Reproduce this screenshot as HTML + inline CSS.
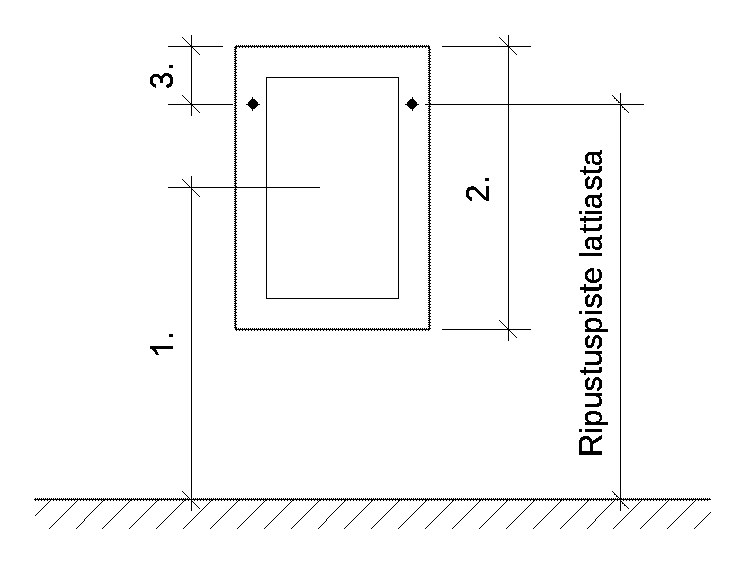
<!DOCTYPE html>
<html><head><meta charset="utf-8"><title>Ripustuspiste</title>
<style>
html,body{margin:0;padding:0;background:#fff;width:744px;height:562px;overflow:hidden}
svg{display:block}
text{font-family:"Liberation Sans",sans-serif;font-size:32px;fill:#000}
</style></head><body>
<svg width="744" height="562" viewBox="0 0 744 562" shape-rendering="crispEdges">
<defs><pattern id="h2_0" patternUnits="userSpaceOnUse" x="0" y="0" width="2" height="1"><rect width="1" height="1"/></pattern><pattern id="v2_0" patternUnits="userSpaceOnUse" x="0" y="0" width="1" height="2"><rect width="1" height="1"/></pattern><pattern id="h2_1" patternUnits="userSpaceOnUse" x="1" y="0" width="2" height="1"><rect width="1" height="1"/></pattern><pattern id="v2_1" patternUnits="userSpaceOnUse" x="0" y="1" width="1" height="2"><rect width="1" height="1"/></pattern><pattern id="h3_0" patternUnits="userSpaceOnUse" x="0" y="0" width="3" height="1"><rect width="1" height="1"/></pattern><pattern id="v3_0" patternUnits="userSpaceOnUse" x="0" y="0" width="1" height="3"><rect width="1" height="1"/></pattern><pattern id="h3_1" patternUnits="userSpaceOnUse" x="1" y="0" width="3" height="1"><rect width="1" height="1"/></pattern><pattern id="v3_1" patternUnits="userSpaceOnUse" x="0" y="1" width="1" height="3"><rect width="1" height="1"/></pattern><pattern id="h3_2" patternUnits="userSpaceOnUse" x="2" y="0" width="3" height="1"><rect width="1" height="1"/></pattern><pattern id="v3_2" patternUnits="userSpaceOnUse" x="0" y="2" width="1" height="3"><rect width="1" height="1"/></pattern></defs>
<g fill="#000">
<rect x="235" y="46" width="195" height="1"/>
<rect x="236" y="45" width="193" height="1" fill="url(#h2_0)"/>
<rect x="236" y="47" width="193" height="1" fill="url(#h3_2)"/>
<rect x="235" y="329" width="195" height="1"/>
<rect x="236" y="328" width="193" height="1" fill="url(#h2_0)"/>
<rect x="236" y="330" width="193" height="1" fill="url(#h3_2)"/>
<rect x="235" y="46" width="1" height="284"/>
<rect x="234" y="47" width="1" height="282" fill="url(#v2_1)"/>
<rect x="236" y="47" width="1" height="282" fill="url(#v3_0)"/>
<rect x="429" y="46" width="1" height="284"/>
<rect x="428" y="47" width="1" height="282" fill="url(#v2_0)"/>
<rect x="430" y="47" width="1" height="282" fill="url(#v3_1)"/>
<rect x="266" y="77" width="133" height="1"/>
<rect x="266" y="298" width="133" height="1"/>
<rect x="266" y="77" width="1" height="222"/>
<rect x="398" y="77" width="1" height="222"/>
<rect x="252" y="97" width="1" height="2"/>
<rect x="252" y="109" width="1" height="2"/>
<rect x="251" y="99" width="4" height="1"/>
<rect x="250" y="100" width="6" height="1"/>
<rect x="249" y="101" width="8" height="1"/>
<rect x="248" y="102" width="10" height="1"/>
<rect x="248" y="103" width="10" height="1"/>
<rect x="246" y="104" width="14" height="1"/>
<rect x="248" y="105" width="10" height="1"/>
<rect x="249" y="106" width="8" height="1"/>
<rect x="250" y="107" width="6" height="1"/>
<rect x="251" y="108" width="4" height="1"/>
<rect x="412" y="97" width="1" height="2"/>
<rect x="412" y="109" width="1" height="2"/>
<rect x="410" y="99" width="4" height="1"/>
<rect x="409" y="100" width="6" height="1"/>
<rect x="408" y="101" width="8" height="1"/>
<rect x="407" y="102" width="10" height="1"/>
<rect x="407" y="103" width="10" height="1"/>
<rect x="405" y="104" width="14" height="1"/>
<rect x="407" y="105" width="10" height="1"/>
<rect x="408" y="106" width="8" height="1"/>
<rect x="409" y="107" width="6" height="1"/>
<rect x="410" y="108" width="4" height="1"/>
<rect x="191" y="35" width="1" height="81"/>
<rect x="168" y="46" width="55" height="1"/>
<rect x="168" y="104" width="65" height="1"/>
<path d="M182 37h1v1h-1zM183 38h1v1h-1zM184 39h1v1h-1zM185 40h1v1h-1zM186 41h1v1h-1zM187 42h1v1h-1zM188 43h1v1h-1zM189 44h1v1h-1zM190 45h1v1h-1zM191 46h1v1h-1zM192 47h1v1h-1zM193 48h1v1h-1zM194 49h1v1h-1zM195 50h1v1h-1zM196 51h1v1h-1zM197 52h1v1h-1zM198 53h1v1h-1zM199 54h1v1h-1z"/>
<path d="M182 95h1v1h-1zM183 96h1v1h-1zM184 97h1v1h-1zM185 98h1v1h-1zM186 99h1v1h-1zM187 100h1v1h-1zM188 101h1v1h-1zM189 102h1v1h-1zM190 103h1v1h-1zM191 104h1v1h-1zM192 105h1v1h-1zM193 106h1v1h-1zM194 107h1v1h-1zM195 108h1v1h-1zM196 109h1v1h-1zM197 110h1v1h-1zM198 111h1v1h-1zM199 112h1v1h-1z"/>
<rect x="191" y="176" width="1" height="335"/>
<rect x="168" y="187" width="152" height="1"/>
<path d="M182 179h1v1h-1zM183 180h1v1h-1zM184 181h1v1h-1zM185 182h1v1h-1zM186 183h1v1h-1zM187 184h1v1h-1zM188 185h1v1h-1zM189 186h1v1h-1zM190 187h1v1h-1zM191 188h1v1h-1zM192 189h1v1h-1zM193 190h1v1h-1zM194 191h1v1h-1zM195 192h1v1h-1zM196 193h1v1h-1zM197 194h1v1h-1zM198 195h1v1h-1zM199 196h1v1h-1z"/>
<path d="M182 491h1v1h-1zM183 492h1v1h-1zM184 493h1v1h-1zM185 494h1v1h-1zM186 495h1v1h-1zM187 496h1v1h-1zM188 497h1v1h-1zM189 498h1v1h-1zM190 499h1v1h-1zM191 500h1v1h-1zM192 501h1v1h-1zM193 502h1v1h-1zM194 503h1v1h-1zM195 504h1v1h-1zM196 505h1v1h-1zM197 506h1v1h-1zM198 507h1v1h-1zM199 508h1v1h-1z"/>
<rect x="508" y="35" width="1" height="306"/>
<rect x="442" y="46" width="89" height="1"/>
<rect x="442" y="329" width="89" height="1"/>
<path d="M499 37h1v1h-1zM500 38h1v1h-1zM501 39h1v1h-1zM502 40h1v1h-1zM503 41h1v1h-1zM504 42h1v1h-1zM505 43h1v1h-1zM506 44h1v1h-1zM507 45h1v1h-1zM508 46h1v1h-1zM509 47h1v1h-1zM510 48h1v1h-1zM511 49h1v1h-1zM512 50h1v1h-1zM513 51h1v1h-1zM514 52h1v1h-1zM515 53h1v1h-1zM516 54h1v1h-1z"/>
<path d="M499 320h1v1h-1zM500 321h1v1h-1zM501 322h1v1h-1zM502 323h1v1h-1zM503 324h1v1h-1zM504 325h1v1h-1zM505 326h1v1h-1zM506 327h1v1h-1zM507 328h1v1h-1zM508 329h1v1h-1zM509 330h1v1h-1zM510 331h1v1h-1zM511 332h1v1h-1zM512 333h1v1h-1zM513 334h1v1h-1zM514 335h1v1h-1zM515 336h1v1h-1zM516 337h1v1h-1z"/>
<rect x="425" y="104" width="219" height="1"/>
<rect x="620" y="93" width="1" height="418"/>
<path d="M612 95h1v1h-1zM613 96h1v1h-1zM614 97h1v1h-1zM615 98h1v1h-1zM616 99h1v1h-1zM617 100h1v1h-1zM618 101h1v1h-1zM619 102h1v1h-1zM620 103h1v1h-1zM620 104h1v1h-1zM621 105h1v1h-1zM622 106h1v1h-1zM623 107h1v1h-1zM624 108h1v1h-1zM625 109h1v1h-1zM626 110h1v1h-1zM627 111h1v1h-1zM628 112h1v1h-1z"/>
<path d="M612 491h1v1h-1zM613 492h1v1h-1zM614 493h1v1h-1zM615 494h1v1h-1zM616 495h1v1h-1zM617 496h1v1h-1zM618 497h1v1h-1zM619 498h1v1h-1zM620 499h1v1h-1zM620 500h1v1h-1zM621 501h1v1h-1zM622 502h1v1h-1zM623 503h1v1h-1zM624 504h1v1h-1zM625 505h1v1h-1zM626 506h1v1h-1zM627 507h1v1h-1zM628 508h1v1h-1z"/>
<path d="M614 98h1v1h-1zM616 100h1v1h-1zM618 102h1v1h-1zM622 107h1v1h-1zM624 109h1v1h-1zM614 494h1v1h-1zM616 496h1v1h-1zM622 503h1v1h-1zM624 505h1v1h-1z"/>
<rect x="34" y="499" width="677" height="1"/>
<rect x="35" y="498" width="675" height="1" fill="url(#h2_1)"/>
<rect x="35" y="500" width="675" height="1" fill="url(#h3_2)"/>
<path d="M50 500h1v1h-1zM49 501h1v1h-1zM48 502h1v1h-1zM47 503h1v1h-1zM46 504h1v1h-1zM45 505h1v1h-1zM44 506h1v1h-1zM43 507h1v1h-1zM42 508h1v1h-1zM41 509h1v1h-1zM40 510h1v1h-1zM39 511h1v1h-1zM38 512h1v1h-1zM37 513h1v1h-1zM36 514h1v1h-1zM35 515h1v1h-1zM77 500h1v1h-1zM76 501h1v1h-1zM75 502h1v1h-1zM74 503h1v1h-1zM73 504h1v1h-1zM72 505h1v1h-1zM71 506h1v1h-1zM70 507h1v1h-1zM69 508h1v1h-1zM68 509h1v1h-1zM67 510h1v1h-1zM66 511h1v1h-1zM65 512h1v1h-1zM64 513h1v1h-1zM63 514h1v1h-1zM62 515h1v1h-1zM61 516h1v1h-1zM60 517h1v1h-1zM59 518h1v1h-1zM58 519h1v1h-1zM57 520h1v1h-1zM56 521h1v1h-1zM55 522h1v1h-1zM54 523h1v1h-1zM53 524h1v1h-1zM52 525h1v1h-1zM51 526h1v1h-1zM50 527h1v1h-1zM49 528h1v1h-1zM103 500h1v1h-1zM102 501h1v1h-1zM101 502h1v1h-1zM100 503h1v1h-1zM99 504h1v1h-1zM98 505h1v1h-1zM97 506h1v1h-1zM96 507h1v1h-1zM95 508h1v1h-1zM94 509h1v1h-1zM93 510h1v1h-1zM92 511h1v1h-1zM91 512h1v1h-1zM90 513h1v1h-1zM89 514h1v1h-1zM88 515h1v1h-1zM87 516h1v1h-1zM86 517h1v1h-1zM85 518h1v1h-1zM84 519h1v1h-1zM84 520h1v1h-1zM83 521h1v1h-1zM82 522h1v1h-1zM81 523h1v1h-1zM80 524h1v1h-1zM79 525h1v1h-1zM78 526h1v1h-1zM77 527h1v1h-1zM76 528h1v1h-1zM130 500h1v1h-1zM129 501h1v1h-1zM128 502h1v1h-1zM127 503h1v1h-1zM126 504h1v1h-1zM125 505h1v1h-1zM124 506h1v1h-1zM123 507h1v1h-1zM122 508h1v1h-1zM121 509h1v1h-1zM120 510h1v1h-1zM119 511h1v1h-1zM118 512h1v1h-1zM117 513h1v1h-1zM116 514h1v1h-1zM115 515h1v1h-1zM114 516h1v1h-1zM113 517h1v1h-1zM112 518h1v1h-1zM111 519h1v1h-1zM110 520h1v1h-1zM109 521h1v1h-1zM108 522h1v1h-1zM107 523h1v1h-1zM106 524h1v1h-1zM105 525h1v1h-1zM104 526h1v1h-1zM103 527h1v1h-1zM102 528h1v1h-1zM157 500h1v1h-1zM156 501h1v1h-1zM155 502h1v1h-1zM154 503h1v1h-1zM153 504h1v1h-1zM152 505h1v1h-1zM151 506h1v1h-1zM150 507h1v1h-1zM149 508h1v1h-1zM148 509h1v1h-1zM147 510h1v1h-1zM146 511h1v1h-1zM145 512h1v1h-1zM144 513h1v1h-1zM143 514h1v1h-1zM142 515h1v1h-1zM141 516h1v1h-1zM140 517h1v1h-1zM139 518h1v1h-1zM138 519h1v1h-1zM137 520h1v1h-1zM136 521h1v1h-1zM135 522h1v1h-1zM134 523h1v1h-1zM133 524h1v1h-1zM132 525h1v1h-1zM131 526h1v1h-1zM130 527h1v1h-1zM129 528h1v1h-1zM184 500h1v1h-1zM183 501h1v1h-1zM182 502h1v1h-1zM181 503h1v1h-1zM180 504h1v1h-1zM179 505h1v1h-1zM178 506h1v1h-1zM177 507h1v1h-1zM176 508h1v1h-1zM175 509h1v1h-1zM174 510h1v1h-1zM173 511h1v1h-1zM172 512h1v1h-1zM171 513h1v1h-1zM170 514h1v1h-1zM169 515h1v1h-1zM168 516h1v1h-1zM167 517h1v1h-1zM166 518h1v1h-1zM165 519h1v1h-1zM164 520h1v1h-1zM163 521h1v1h-1zM162 522h1v1h-1zM161 523h1v1h-1zM160 524h1v1h-1zM159 525h1v1h-1zM158 526h1v1h-1zM157 527h1v1h-1zM156 528h1v1h-1zM211 500h1v1h-1zM210 501h1v1h-1zM209 502h1v1h-1zM208 503h1v1h-1zM207 504h1v1h-1zM206 505h1v1h-1zM205 506h1v1h-1zM204 507h1v1h-1zM203 508h1v1h-1zM202 509h1v1h-1zM201 510h1v1h-1zM200 511h1v1h-1zM199 512h1v1h-1zM198 513h1v1h-1zM197 514h1v1h-1zM196 515h1v1h-1zM195 516h1v1h-1zM194 517h1v1h-1zM193 518h1v1h-1zM192 519h1v1h-1zM191 520h1v1h-1zM190 521h1v1h-1zM189 522h1v1h-1zM188 523h1v1h-1zM187 524h1v1h-1zM186 525h1v1h-1zM185 526h1v1h-1zM184 527h1v1h-1zM183 528h1v1h-1zM238 500h1v1h-1zM237 501h1v1h-1zM236 502h1v1h-1zM235 503h1v1h-1zM234 504h1v1h-1zM233 505h1v1h-1zM232 506h1v1h-1zM231 507h1v1h-1zM230 508h1v1h-1zM229 509h1v1h-1zM228 510h1v1h-1zM227 511h1v1h-1zM226 512h1v1h-1zM225 513h1v1h-1zM224 514h1v1h-1zM223 515h1v1h-1zM222 516h1v1h-1zM221 517h1v1h-1zM220 518h1v1h-1zM219 519h1v1h-1zM218 520h1v1h-1zM217 521h1v1h-1zM216 522h1v1h-1zM215 523h1v1h-1zM214 524h1v1h-1zM213 525h1v1h-1zM212 526h1v1h-1zM211 527h1v1h-1zM210 528h1v1h-1zM265 500h1v1h-1zM264 501h1v1h-1zM263 502h1v1h-1zM262 503h1v1h-1zM261 504h1v1h-1zM260 505h1v1h-1zM259 506h1v1h-1zM258 507h1v1h-1zM257 508h1v1h-1zM256 509h1v1h-1zM255 510h1v1h-1zM254 511h1v1h-1zM253 512h1v1h-1zM252 513h1v1h-1zM251 514h1v1h-1zM250 515h1v1h-1zM249 516h1v1h-1zM248 517h1v1h-1zM247 518h1v1h-1zM246 519h1v1h-1zM245 520h1v1h-1zM244 521h1v1h-1zM243 522h1v1h-1zM242 523h1v1h-1zM241 524h1v1h-1zM240 525h1v1h-1zM239 526h1v1h-1zM238 527h1v1h-1zM237 528h1v1h-1zM292 500h1v1h-1zM291 501h1v1h-1zM290 502h1v1h-1zM289 503h1v1h-1zM288 504h1v1h-1zM287 505h1v1h-1zM286 506h1v1h-1zM285 507h1v1h-1zM284 508h1v1h-1zM283 509h1v1h-1zM282 510h1v1h-1zM281 511h1v1h-1zM280 512h1v1h-1zM279 513h1v1h-1zM278 514h1v1h-1zM277 515h1v1h-1zM276 516h1v1h-1zM275 517h1v1h-1zM274 518h1v1h-1zM273 519h1v1h-1zM272 520h1v1h-1zM271 521h1v1h-1zM270 522h1v1h-1zM269 523h1v1h-1zM268 524h1v1h-1zM267 525h1v1h-1zM266 526h1v1h-1zM265 527h1v1h-1zM264 528h1v1h-1zM319 500h1v1h-1zM318 501h1v1h-1zM317 502h1v1h-1zM316 503h1v1h-1zM315 504h1v1h-1zM314 505h1v1h-1zM313 506h1v1h-1zM312 507h1v1h-1zM311 508h1v1h-1zM310 509h1v1h-1zM309 510h1v1h-1zM308 511h1v1h-1zM307 512h1v1h-1zM306 513h1v1h-1zM305 514h1v1h-1zM304 515h1v1h-1zM303 516h1v1h-1zM302 517h1v1h-1zM301 518h1v1h-1zM300 519h1v1h-1zM299 520h1v1h-1zM298 521h1v1h-1zM297 522h1v1h-1zM296 523h1v1h-1zM295 524h1v1h-1zM294 525h1v1h-1zM293 526h1v1h-1zM292 527h1v1h-1zM291 528h1v1h-1zM345 500h1v1h-1zM344 501h1v1h-1zM343 502h1v1h-1zM342 503h1v1h-1zM341 504h1v1h-1zM340 505h1v1h-1zM339 506h1v1h-1zM338 507h1v1h-1zM337 508h1v1h-1zM336 509h1v1h-1zM335 510h1v1h-1zM334 511h1v1h-1zM333 512h1v1h-1zM332 513h1v1h-1zM331 514h1v1h-1zM330 515h1v1h-1zM329 516h1v1h-1zM328 517h1v1h-1zM327 518h1v1h-1zM326 519h1v1h-1zM326 520h1v1h-1zM325 521h1v1h-1zM324 522h1v1h-1zM323 523h1v1h-1zM322 524h1v1h-1zM321 525h1v1h-1zM320 526h1v1h-1zM319 527h1v1h-1zM318 528h1v1h-1zM372 500h1v1h-1zM371 501h1v1h-1zM370 502h1v1h-1zM369 503h1v1h-1zM368 504h1v1h-1zM367 505h1v1h-1zM366 506h1v1h-1zM365 507h1v1h-1zM364 508h1v1h-1zM363 509h1v1h-1zM362 510h1v1h-1zM361 511h1v1h-1zM360 512h1v1h-1zM359 513h1v1h-1zM358 514h1v1h-1zM357 515h1v1h-1zM356 516h1v1h-1zM355 517h1v1h-1zM354 518h1v1h-1zM353 519h1v1h-1zM352 520h1v1h-1zM351 521h1v1h-1zM350 522h1v1h-1zM349 523h1v1h-1zM348 524h1v1h-1zM347 525h1v1h-1zM346 526h1v1h-1zM345 527h1v1h-1zM344 528h1v1h-1zM399 500h1v1h-1zM398 501h1v1h-1zM397 502h1v1h-1zM396 503h1v1h-1zM395 504h1v1h-1zM394 505h1v1h-1zM393 506h1v1h-1zM392 507h1v1h-1zM391 508h1v1h-1zM390 509h1v1h-1zM389 510h1v1h-1zM388 511h1v1h-1zM387 512h1v1h-1zM386 513h1v1h-1zM385 514h1v1h-1zM384 515h1v1h-1zM383 516h1v1h-1zM382 517h1v1h-1zM381 518h1v1h-1zM380 519h1v1h-1zM379 520h1v1h-1zM378 521h1v1h-1zM377 522h1v1h-1zM376 523h1v1h-1zM375 524h1v1h-1zM374 525h1v1h-1zM373 526h1v1h-1zM372 527h1v1h-1zM371 528h1v1h-1zM426 500h1v1h-1zM425 501h1v1h-1zM424 502h1v1h-1zM423 503h1v1h-1zM422 504h1v1h-1zM421 505h1v1h-1zM420 506h1v1h-1zM419 507h1v1h-1zM418 508h1v1h-1zM417 509h1v1h-1zM416 510h1v1h-1zM415 511h1v1h-1zM414 512h1v1h-1zM413 513h1v1h-1zM412 514h1v1h-1zM411 515h1v1h-1zM410 516h1v1h-1zM409 517h1v1h-1zM408 518h1v1h-1zM407 519h1v1h-1zM406 520h1v1h-1zM405 521h1v1h-1zM404 522h1v1h-1zM403 523h1v1h-1zM402 524h1v1h-1zM401 525h1v1h-1zM400 526h1v1h-1zM399 527h1v1h-1zM398 528h1v1h-1zM453 500h1v1h-1zM452 501h1v1h-1zM451 502h1v1h-1zM450 503h1v1h-1zM449 504h1v1h-1zM448 505h1v1h-1zM447 506h1v1h-1zM446 507h1v1h-1zM445 508h1v1h-1zM444 509h1v1h-1zM443 510h1v1h-1zM442 511h1v1h-1zM441 512h1v1h-1zM440 513h1v1h-1zM439 514h1v1h-1zM438 515h1v1h-1zM437 516h1v1h-1zM436 517h1v1h-1zM435 518h1v1h-1zM434 519h1v1h-1zM433 520h1v1h-1zM432 521h1v1h-1zM431 522h1v1h-1zM430 523h1v1h-1zM429 524h1v1h-1zM428 525h1v1h-1zM427 526h1v1h-1zM426 527h1v1h-1zM425 528h1v1h-1zM480 500h1v1h-1zM479 501h1v1h-1zM478 502h1v1h-1zM477 503h1v1h-1zM476 504h1v1h-1zM475 505h1v1h-1zM474 506h1v1h-1zM473 507h1v1h-1zM472 508h1v1h-1zM471 509h1v1h-1zM470 510h1v1h-1zM469 511h1v1h-1zM468 512h1v1h-1zM467 513h1v1h-1zM466 514h1v1h-1zM465 515h1v1h-1zM464 516h1v1h-1zM463 517h1v1h-1zM462 518h1v1h-1zM461 519h1v1h-1zM460 520h1v1h-1zM459 521h1v1h-1zM458 522h1v1h-1zM457 523h1v1h-1zM456 524h1v1h-1zM455 525h1v1h-1zM454 526h1v1h-1zM453 527h1v1h-1zM452 528h1v1h-1zM507 500h1v1h-1zM506 501h1v1h-1zM505 502h1v1h-1zM504 503h1v1h-1zM503 504h1v1h-1zM502 505h1v1h-1zM501 506h1v1h-1zM500 507h1v1h-1zM499 508h1v1h-1zM498 509h1v1h-1zM497 510h1v1h-1zM496 511h1v1h-1zM495 512h1v1h-1zM494 513h1v1h-1zM493 514h1v1h-1zM492 515h1v1h-1zM491 516h1v1h-1zM490 517h1v1h-1zM489 518h1v1h-1zM488 519h1v1h-1zM487 520h1v1h-1zM486 521h1v1h-1zM485 522h1v1h-1zM484 523h1v1h-1zM483 524h1v1h-1zM482 525h1v1h-1zM481 526h1v1h-1zM480 527h1v1h-1zM479 528h1v1h-1zM534 500h1v1h-1zM533 501h1v1h-1zM532 502h1v1h-1zM531 503h1v1h-1zM530 504h1v1h-1zM529 505h1v1h-1zM528 506h1v1h-1zM527 507h1v1h-1zM526 508h1v1h-1zM525 509h1v1h-1zM524 510h1v1h-1zM523 511h1v1h-1zM522 512h1v1h-1zM521 513h1v1h-1zM520 514h1v1h-1zM519 515h1v1h-1zM518 516h1v1h-1zM517 517h1v1h-1zM516 518h1v1h-1zM515 519h1v1h-1zM514 520h1v1h-1zM513 521h1v1h-1zM512 522h1v1h-1zM511 523h1v1h-1zM510 524h1v1h-1zM509 525h1v1h-1zM508 526h1v1h-1zM507 527h1v1h-1zM506 528h1v1h-1zM561 500h1v1h-1zM560 501h1v1h-1zM559 502h1v1h-1zM558 503h1v1h-1zM557 504h1v1h-1zM556 505h1v1h-1zM555 506h1v1h-1zM554 507h1v1h-1zM553 508h1v1h-1zM552 509h1v1h-1zM551 510h1v1h-1zM550 511h1v1h-1zM549 512h1v1h-1zM548 513h1v1h-1zM547 514h1v1h-1zM546 515h1v1h-1zM545 516h1v1h-1zM544 517h1v1h-1zM543 518h1v1h-1zM542 519h1v1h-1zM541 520h1v1h-1zM540 521h1v1h-1zM539 522h1v1h-1zM538 523h1v1h-1zM537 524h1v1h-1zM536 525h1v1h-1zM535 526h1v1h-1zM534 527h1v1h-1zM533 528h1v1h-1zM588 500h1v1h-1zM587 501h1v1h-1zM586 502h1v1h-1zM585 503h1v1h-1zM584 504h1v1h-1zM583 505h1v1h-1zM582 506h1v1h-1zM581 507h1v1h-1zM580 508h1v1h-1zM579 509h1v1h-1zM578 510h1v1h-1zM577 511h1v1h-1zM576 512h1v1h-1zM575 513h1v1h-1zM574 514h1v1h-1zM573 515h1v1h-1zM572 516h1v1h-1zM571 517h1v1h-1zM570 518h1v1h-1zM569 519h1v1h-1zM568 520h1v1h-1zM567 521h1v1h-1zM566 522h1v1h-1zM565 523h1v1h-1zM564 524h1v1h-1zM563 525h1v1h-1zM562 526h1v1h-1zM561 527h1v1h-1zM560 528h1v1h-1zM614 500h1v1h-1zM613 501h1v1h-1zM612 502h1v1h-1zM611 503h1v1h-1zM610 504h1v1h-1zM609 505h1v1h-1zM608 506h1v1h-1zM607 507h1v1h-1zM606 508h1v1h-1zM605 509h1v1h-1zM604 510h1v1h-1zM603 511h1v1h-1zM602 512h1v1h-1zM601 513h1v1h-1zM600 514h1v1h-1zM599 515h1v1h-1zM598 516h1v1h-1zM597 517h1v1h-1zM596 518h1v1h-1zM595 519h1v1h-1zM595 520h1v1h-1zM594 521h1v1h-1zM593 522h1v1h-1zM592 523h1v1h-1zM591 524h1v1h-1zM590 525h1v1h-1zM589 526h1v1h-1zM588 527h1v1h-1zM587 528h1v1h-1zM641 500h1v1h-1zM640 501h1v1h-1zM639 502h1v1h-1zM638 503h1v1h-1zM637 504h1v1h-1zM636 505h1v1h-1zM635 506h1v1h-1zM634 507h1v1h-1zM633 508h1v1h-1zM632 509h1v1h-1zM631 510h1v1h-1zM630 511h1v1h-1zM629 512h1v1h-1zM628 513h1v1h-1zM627 514h1v1h-1zM626 515h1v1h-1zM625 516h1v1h-1zM624 517h1v1h-1zM623 518h1v1h-1zM622 519h1v1h-1zM621 520h1v1h-1zM620 521h1v1h-1zM619 522h1v1h-1zM618 523h1v1h-1zM617 524h1v1h-1zM616 525h1v1h-1zM615 526h1v1h-1zM614 527h1v1h-1zM613 528h1v1h-1zM668 500h1v1h-1zM667 501h1v1h-1zM666 502h1v1h-1zM665 503h1v1h-1zM664 504h1v1h-1zM663 505h1v1h-1zM662 506h1v1h-1zM661 507h1v1h-1zM660 508h1v1h-1zM659 509h1v1h-1zM658 510h1v1h-1zM657 511h1v1h-1zM656 512h1v1h-1zM655 513h1v1h-1zM654 514h1v1h-1zM653 515h1v1h-1zM652 516h1v1h-1zM651 517h1v1h-1zM650 518h1v1h-1zM649 519h1v1h-1zM648 520h1v1h-1zM647 521h1v1h-1zM646 522h1v1h-1zM645 523h1v1h-1zM644 524h1v1h-1zM643 525h1v1h-1zM642 526h1v1h-1zM641 527h1v1h-1zM640 528h1v1h-1zM695 500h1v1h-1zM694 501h1v1h-1zM693 502h1v1h-1zM692 503h1v1h-1zM691 504h1v1h-1zM690 505h1v1h-1zM689 506h1v1h-1zM688 507h1v1h-1zM687 508h1v1h-1zM686 509h1v1h-1zM685 510h1v1h-1zM684 511h1v1h-1zM683 512h1v1h-1zM682 513h1v1h-1zM681 514h1v1h-1zM680 515h1v1h-1zM679 516h1v1h-1zM678 517h1v1h-1zM677 518h1v1h-1zM676 519h1v1h-1zM675 520h1v1h-1zM674 521h1v1h-1zM673 522h1v1h-1zM672 523h1v1h-1zM671 524h1v1h-1zM670 525h1v1h-1zM669 526h1v1h-1zM668 527h1v1h-1zM667 528h1v1h-1zM710 512h1v1h-1zM709 513h1v1h-1zM708 514h1v1h-1zM707 515h1v1h-1zM706 516h1v1h-1zM705 517h1v1h-1zM704 518h1v1h-1zM703 519h1v1h-1zM702 520h1v1h-1zM701 521h1v1h-1zM700 522h1v1h-1zM699 523h1v1h-1zM698 524h1v1h-1zM697 525h1v1h-1zM696 526h1v1h-1zM695 527h1v1h-1zM694 528h1v1h-1z"/>
<path role="img" aria-label="3." d="M161.20 77.25L161.05 76.82L160.76 76.22L160.43 75.68L160.04 75.20L159.61 74.77L159.12 74.41L158.59 74.11L158.02 73.88L157.40 73.71L156.74 73.61L156.04 73.58L155.13 73.63L154.29 73.78L153.51 74.04L152.80 74.40L152.16 74.86L151.59 75.42L151.10 76.08L150.70 76.81L150.39 77.62L150.17 78.51L150.04 79.47L150.00 80.51L150.04 81.47L150.17 82.37L150.39 83.22L150.69 84.01L151.08 84.74L151.56 85.41L152.12 86.00L152.75 86.51L153.44 86.93L154.20 87.26L155.03 87.49L156.17 87.68L156.43 84.48L155.66 84.36L155.18 84.23L154.74 84.05L154.35 83.83L154.00 83.56L153.68 83.25L153.41 82.89L153.19 82.50L153.02 82.07L152.90 81.60L152.82 81.09L152.80 80.54L152.82 79.94L152.90 79.39L153.04 78.90L153.22 78.47L153.45 78.09L153.74 77.77L154.07 77.49L154.44 77.26L154.85 77.08L155.30 76.95L155.79 76.87L156.33 76.85L156.87 76.88L157.36 76.97L157.81 77.13L158.21 77.35L158.58 77.63L158.91 77.97L159.19 78.38L159.43 78.83L159.61 79.35L159.75 79.92L159.83 80.55L159.85 81.24L159.85 82.95L162.77 82.95L162.77 81.18L162.80 80.40L162.88 79.69L163.02 79.04L163.20 78.47L163.44 77.96L163.72 77.52L164.06 77.14L164.42 76.84L164.83 76.60L165.28 76.43L165.77 76.33L166.31 76.29L166.94 76.32L167.51 76.42L168.02 76.57L168.47 76.78L168.87 77.04L169.21 77.37L169.51 77.75L169.75 78.18L169.94 78.65L170.08 79.18L170.16 79.76L170.19 80.38L170.08 81.59L169.78 82.59L169.28 83.39L168.57 84.01L167.66 84.46L166.29 84.78L166.60 88.04L167.82 87.83L168.70 87.58L169.51 87.23L170.24 86.79L170.89 86.26L171.45 85.64L171.93 84.94L172.31 84.17L172.62 83.33L172.83 82.42L172.96 81.44L173.00 80.39L172.95 79.26L172.81 78.23L172.57 77.27L172.24 76.41L171.81 75.63L171.28 74.93L170.66 74.34L169.96 73.86L169.18 73.48L168.33 73.21L167.40 73.05L166.40 73.00L165.70 73.04L165.03 73.15L164.40 73.34L163.81 73.61L163.26 73.96L162.75 74.38L162.30 74.87L161.92 75.43L161.60 76.04L161.34 76.70ZM173.00 68.00L173.00 65.00L169.00 65.00L169.00 68.00Z"><title>3.</title></path>
<path role="img" aria-label="1." d="M173.00 346.00L150.00 346.00L150.00 348.24L151.19 349.08L152.79 350.44L154.43 352.36L155.92 355.00L159.13 355.00L158.15 352.89L157.26 351.31L156.29 349.95L155.72 349.33L173.00 349.33ZM173.00 337.00L173.00 334.00L169.00 334.00L169.00 337.00Z"><title>1.</title></path>
<path role="img" aria-label="2." d="M489.00 201.00L489.00 186.00L486.09 186.00L486.09 197.28L486.09 197.28L485.73 197.08L485.36 196.85L484.98 196.59L484.60 196.29L484.22 195.96L483.82 195.60L483.41 195.19L482.97 194.74L482.53 194.25L482.06 193.72L481.58 193.15L480.72 192.12L479.95 191.21L479.25 190.41L478.62 189.74L478.08 189.17L477.61 188.72L477.17 188.35L476.74 188.00L476.30 187.69L475.87 187.41L475.43 187.16L474.99 186.95L474.55 186.76L474.11 186.61L473.67 186.49L473.22 186.41L472.77 186.36L472.32 186.34L471.36 186.39L470.47 186.55L469.65 186.80L468.91 187.17L468.24 187.63L467.64 188.20L467.14 188.87L466.73 189.62L466.41 190.46L466.18 191.38L466.04 192.38L466.00 193.46L466.04 194.46L466.18 195.40L466.40 196.28L466.72 197.10L467.13 197.86L467.63 198.55L468.21 199.17L468.85 199.70L469.55 200.13L470.32 200.47L471.14 200.72L472.28 200.92L472.59 197.56L471.81 197.43L471.31 197.29L470.86 197.10L470.45 196.86L470.08 196.58L469.75 196.24L469.47 195.87L469.24 195.46L469.06 195.01L468.93 194.53L468.86 194.01L468.83 193.46L468.86 192.88L468.94 192.35L469.07 191.87L469.25 191.43L469.48 191.04L469.77 190.70L470.10 190.40L470.47 190.16L470.89 189.97L471.35 189.83L471.86 189.75L472.42 189.72L472.84 189.73L473.25 189.78L473.64 189.86L474.01 189.98L474.37 190.12L474.72 190.30L475.06 190.51L475.40 190.74L475.73 190.99L476.06 191.26L476.39 191.55L476.71 191.87L477.03 192.20L477.35 192.55L477.67 192.91L478.00 193.28L478.32 193.67L478.64 194.08L478.97 194.49L479.31 194.91L479.66 195.32L480.02 195.74L480.39 196.16L480.77 196.58L481.16 197.00L481.57 197.42L481.99 197.83L482.43 198.23L482.88 198.62L483.35 199.01L483.84 199.39L484.35 199.75L484.89 200.08L485.45 200.40L486.04 200.70L486.70 201.00ZM489.00 181.00L489.00 178.00L485.00 178.00L485.00 181.00Z"><title>2.</title></path>
<path role="img" aria-label="Ripustuspiste lattiasta" d="M602.00 434.82L601.98 434.81L592.22 441.10L592.11 440.62L591.85 439.85L591.51 439.14L591.10 438.48L590.62 437.89L590.06 437.36L589.45 436.91L588.78 436.53L588.07 436.25L587.32 436.04L586.52 435.92L585.68 435.87L584.68 435.93L583.75 436.11L582.89 436.40L582.10 436.81L581.39 437.34L580.76 437.99L580.22 438.74L579.78 439.58L579.44 440.52L579.19 441.56L579.05 442.68L579.00 443.89L579.00 454.50L602.00 454.50L602.00 451.02L592.66 451.02L592.66 444.55L602.00 438.83ZM586.34 439.41L586.91 439.51L587.42 439.68L587.89 439.91L588.31 440.21L588.68 440.58L589.00 441.01L589.27 441.50L589.48 442.04L589.63 442.66L589.72 443.33L589.75 444.07L589.75 451.02L581.94 451.02L581.94 444.19L581.97 443.42L582.05 442.72L582.19 442.09L582.38 441.52L582.63 441.02L582.92 440.59L583.26 440.22L583.65 439.92L584.09 439.68L584.58 439.51L585.12 439.41L585.72 439.38ZM602.00 429.00L585.10 429.00L585.10 432.00L602.00 432.00ZM582.11 429.00L579.00 429.00L579.00 432.00L582.11 432.00ZM587.29 421.83L587.05 421.84L586.81 421.85L586.59 421.86L586.39 421.87L586.22 421.89L586.06 421.90L585.93 421.91L585.82 421.92L585.72 421.92L585.64 421.93L585.57 421.94L585.52 421.95L585.28 421.99L585.28 425.02L585.86 424.97L586.26 424.95L586.75 424.93L587.34 424.92L588.02 424.91L588.79 424.91L608.00 424.91L608.00 421.77L601.51 421.77L600.78 421.78L600.17 421.78L599.90 421.78L600.00 421.73L600.73 421.07L601.30 420.27L601.71 419.34L601.95 418.27L602.03 417.08L601.79 415.23L601.06 413.70L599.84 412.50L598.15 411.66L596.02 411.16L593.44 411.00L592.07 411.04L590.83 411.16L589.71 411.37L588.71 411.66L587.83 412.04L587.08 412.50L586.44 413.05L585.92 413.69L585.52 414.42L585.23 415.23L585.06 416.12L585.00 417.08L585.02 417.71L585.08 418.30L585.18 418.85L585.32 419.36L585.50 419.83L585.72 420.26L585.99 420.66L586.30 421.03L586.65 421.37L587.06 421.68ZM594.57 414.30L595.53 414.37L596.37 414.49L597.11 414.66L597.73 414.88L598.23 415.13L598.64 415.44L598.97 415.79L599.23 416.20L599.42 416.67L599.53 417.20L599.57 417.79L599.53 418.47L599.41 419.08L599.22 419.61L598.95 420.08L598.61 420.48L598.19 420.82L597.68 421.11L597.07 421.34L596.37 421.53L595.58 421.66L594.68 421.75L593.70 421.77L592.98 421.76L592.31 421.72L591.69 421.66L591.11 421.57L590.59 421.46L590.11 421.32L589.68 421.17L589.29 420.98L588.95 420.78L588.65 420.56L588.39 420.32L588.16 420.06L587.98 419.78L587.83 419.45L587.71 419.09L587.62 418.69L587.57 418.24L587.55 417.76L587.59 417.17L587.70 416.65L587.88 416.19L588.13 415.78L588.46 415.43L588.86 415.13L589.36 414.87L589.96 414.66L590.68 414.49L591.51 414.37L592.45 414.29L593.49 414.27ZM585.00 403.69L585.00 407.00L596.05 407.00L597.04 406.96L597.93 406.85L598.74 406.67L599.45 406.41L600.07 406.07L600.60 405.65L601.03 405.15L601.39 404.56L601.66 403.90L601.85 403.15L601.96 402.33L602.00 401.43L601.98 400.80L601.92 400.21L601.82 399.65L601.68 399.12L601.50 398.63L601.27 398.16L601.00 397.73L600.67 397.31L600.28 396.91L599.84 396.54L599.44 396.24L599.68 396.23L599.93 396.22L600.14 396.22L600.30 396.21L600.44 396.20L600.58 396.19L600.71 396.19L600.83 396.18L600.95 396.17L601.06 396.17L601.16 396.16L601.25 396.16L601.33 396.15L601.40 396.15L601.45 396.14L601.70 396.10L601.70 392.97L601.16 393.03L600.77 393.05L600.26 393.07L599.63 393.08L598.87 393.09L597.99 393.09L585.00 393.09L585.00 396.39L594.63 396.39L595.38 396.42L596.05 396.51L596.67 396.67L597.23 396.88L597.73 397.15L598.17 397.49L598.55 397.87L598.86 398.30L599.10 398.77L599.28 399.29L599.38 399.86L599.42 400.49L599.41 400.91L599.38 401.30L599.33 401.65L599.25 401.96L599.17 402.23L599.06 402.46L598.93 402.66L598.78 402.84L598.61 403.00L598.41 403.14L598.18 403.27L597.92 403.38L597.63 403.47L597.29 403.55L596.91 403.61L596.49 403.66L596.03 403.68L595.52 403.69ZM597.05 377.00L596.73 377.01L596.43 377.04L596.14 377.08L595.85 377.14L595.58 377.22L595.32 377.32L595.07 377.44L594.83 377.57L594.60 377.71L594.39 377.87L594.18 378.04L593.98 378.23L593.79 378.44L593.60 378.67L593.43 378.92L593.26 379.19L593.09 379.49L592.93 379.81L592.78 380.17L592.62 380.60L592.45 381.09L592.28 381.65L592.11 382.27L591.94 382.96L591.76 383.68L591.60 384.31L591.45 384.85L591.32 385.29L591.20 385.65L591.10 385.92L591.00 386.13L590.89 386.33L590.78 386.50L590.66 386.65L590.54 386.78L590.42 386.90L590.29 386.99L590.15 387.07L589.99 387.13L589.83 387.17L589.65 387.20L589.46 387.20L589.14 387.18L588.85 387.12L588.60 387.01L588.38 386.87L588.19 386.68L588.01 386.44L587.86 386.16L587.74 385.81L587.64 385.41L587.56 384.95L587.52 384.43L587.51 383.86L587.52 383.34L587.57 382.86L587.64 382.41L587.75 382.01L587.88 381.65L588.04 381.33L588.23 381.05L588.43 380.80L588.66 380.60L588.92 380.44L589.20 380.32L589.73 380.17L589.37 377.22L588.43 377.47L587.81 377.72L587.25 378.05L586.75 378.44L586.32 378.90L585.96 379.43L585.67 380.02L585.42 380.67L585.24 381.37L585.11 382.14L585.03 382.97L585.00 383.86L585.03 384.85L585.13 385.77L585.29 386.61L585.52 387.37L585.82 388.05L586.19 388.65L586.62 389.17L587.12 389.60L587.69 389.93L588.31 390.16L588.99 390.30L589.71 390.35L590.12 390.33L590.51 390.28L590.87 390.20L591.22 390.08L591.55 389.93L591.85 389.75L592.13 389.54L592.40 389.30L592.65 389.04L592.88 388.76L593.10 388.45L593.30 388.11L593.50 387.73L593.70 387.27L593.90 386.74L594.09 386.14L594.29 385.47L594.49 384.72L594.99 382.77L595.12 382.31L595.26 381.90L595.41 381.53L595.57 381.22L595.73 380.95L595.91 380.73L596.09 380.55L596.28 380.40L596.50 380.29L596.73 380.21L596.98 380.16L597.25 380.15L597.61 380.17L597.93 380.24L598.22 380.36L598.48 380.52L598.70 380.73L598.90 380.99L599.07 381.31L599.22 381.69L599.33 382.14L599.41 382.66L599.46 383.24L599.48 383.89L599.46 384.49L599.42 385.05L599.34 385.56L599.22 386.02L599.08 386.43L598.91 386.79L598.71 387.10L598.48 387.38L598.21 387.61L597.91 387.81L597.57 387.98L596.97 388.18L597.52 391.07L598.46 390.79L599.09 390.51L599.66 390.17L600.17 389.75L600.61 389.27L600.98 388.72L601.30 388.11L601.55 387.41L601.75 386.64L601.89 385.80L601.97 384.88L602.00 383.89L601.97 382.86L601.86 381.91L601.69 381.03L601.44 380.23L601.12 379.50L600.73 378.85L600.27 378.29L599.74 377.82L599.16 377.46L598.51 377.20L597.80 377.05ZM601.56 367.00L598.92 367.00L599.05 367.61L599.11 367.89L599.15 368.15L599.18 368.37L599.20 368.57L599.21 368.74L599.19 369.00L599.16 369.23L599.10 369.42L599.02 369.57L598.92 369.70L598.80 369.81L598.65 369.90L598.45 369.98L598.21 370.04L597.91 370.09L597.58 370.12L597.19 370.13L586.48 370.13L586.48 367.26L583.88 367.26L583.88 370.13L580.00 370.13L580.00 372.30L583.88 373.06L583.88 375.00L586.48 375.00L586.48 373.21L597.83 373.21L599.06 373.12L600.10 372.85L600.93 372.38L601.53 371.72L601.89 370.87L602.00 369.87L601.99 369.40L601.96 368.95L601.90 368.50L601.82 368.06L601.73 367.62ZM585.00 361.69L585.00 365.00L596.05 365.00L597.04 364.96L597.93 364.85L598.74 364.67L599.45 364.41L600.07 364.07L600.60 363.65L601.03 363.15L601.39 362.56L601.66 361.90L601.85 361.15L601.96 360.33L602.00 359.43L601.98 358.80L601.92 358.21L601.82 357.65L601.68 357.12L601.50 356.63L601.27 356.16L601.00 355.73L600.67 355.31L600.28 354.91L599.84 354.54L599.44 354.24L599.68 354.23L599.93 354.22L600.14 354.22L600.30 354.21L600.44 354.20L600.58 354.19L600.71 354.19L600.83 354.18L600.95 354.17L601.06 354.17L601.16 354.16L601.25 354.16L601.33 354.15L601.40 354.15L601.45 354.14L601.70 354.10L601.70 350.97L601.16 351.03L600.77 351.05L600.26 351.07L599.63 351.08L598.87 351.09L597.99 351.09L585.00 351.09L585.00 354.39L594.63 354.39L595.38 354.42L596.05 354.51L596.67 354.67L597.23 354.88L597.73 355.15L598.17 355.49L598.55 355.87L598.86 356.30L599.10 356.77L599.28 357.29L599.38 357.86L599.42 358.49L599.41 358.91L599.38 359.30L599.33 359.65L599.25 359.96L599.17 360.23L599.06 360.46L598.93 360.66L598.78 360.84L598.61 361.00L598.41 361.14L598.18 361.27L597.92 361.38L597.63 361.47L597.29 361.55L596.91 361.61L596.49 361.66L596.03 361.68L595.52 361.69ZM597.05 335.00L596.73 335.01L596.43 335.04L596.14 335.08L595.85 335.14L595.58 335.22L595.32 335.32L595.07 335.44L594.83 335.57L594.60 335.71L594.39 335.87L594.18 336.04L593.98 336.23L593.79 336.44L593.60 336.67L593.43 336.92L593.26 337.19L593.09 337.49L592.93 337.81L592.78 338.17L592.62 338.60L592.45 339.09L592.28 339.65L592.11 340.27L591.94 340.96L591.76 341.68L591.60 342.31L591.45 342.85L591.32 343.29L591.20 343.65L591.10 343.92L591.00 344.13L590.89 344.33L590.78 344.50L590.66 344.65L590.54 344.78L590.42 344.90L590.29 344.99L590.15 345.07L589.99 345.13L589.83 345.17L589.65 345.20L589.46 345.20L589.14 345.18L588.85 345.12L588.60 345.01L588.38 344.87L588.19 344.68L588.01 344.44L587.86 344.16L587.74 343.81L587.64 343.41L587.56 342.95L587.52 342.43L587.51 341.86L587.52 341.34L587.57 340.86L587.64 340.41L587.75 340.01L587.88 339.65L588.04 339.33L588.23 339.05L588.43 338.80L588.66 338.60L588.92 338.44L589.20 338.32L589.73 338.17L589.37 335.22L588.43 335.47L587.81 335.72L587.25 336.05L586.75 336.44L586.32 336.90L585.96 337.43L585.67 338.02L585.42 338.67L585.24 339.37L585.11 340.14L585.03 340.97L585.00 341.86L585.03 342.85L585.13 343.77L585.29 344.61L585.52 345.37L585.82 346.05L586.19 346.65L586.62 347.17L587.12 347.60L587.69 347.93L588.31 348.16L588.99 348.30L589.71 348.35L590.12 348.33L590.51 348.28L590.87 348.20L591.22 348.08L591.55 347.93L591.85 347.75L592.13 347.54L592.40 347.30L592.65 347.04L592.88 346.76L593.10 346.45L593.30 346.11L593.50 345.73L593.70 345.27L593.90 344.74L594.09 344.14L594.29 343.47L594.49 342.72L594.99 340.77L595.12 340.31L595.26 339.90L595.41 339.53L595.57 339.22L595.73 338.95L595.91 338.73L596.09 338.55L596.28 338.40L596.50 338.29L596.73 338.21L596.98 338.16L597.25 338.15L597.61 338.17L597.93 338.24L598.22 338.36L598.48 338.52L598.70 338.73L598.90 338.99L599.07 339.31L599.22 339.69L599.33 340.14L599.41 340.66L599.46 341.24L599.48 341.89L599.46 342.49L599.42 343.05L599.34 343.56L599.22 344.02L599.08 344.43L598.91 344.79L598.71 345.10L598.48 345.38L598.21 345.61L597.91 345.81L597.57 345.98L596.97 346.18L597.52 349.07L598.46 348.79L599.09 348.51L599.66 348.17L600.17 347.75L600.61 347.27L600.98 346.72L601.30 346.11L601.55 345.41L601.75 344.64L601.89 343.80L601.97 342.88L602.00 341.89L601.97 340.86L601.86 339.91L601.69 339.03L601.44 338.23L601.12 337.50L600.73 336.85L600.27 336.29L599.74 335.82L599.16 335.46L598.51 335.20L597.80 335.05ZM587.29 328.83L587.05 328.84L586.81 328.85L586.59 328.86L586.39 328.87L586.22 328.89L586.06 328.90L585.93 328.91L585.82 328.92L585.72 328.92L585.64 328.93L585.57 328.94L585.52 328.95L585.28 328.99L585.28 332.02L585.86 331.97L586.26 331.95L586.75 331.93L587.34 331.92L588.02 331.91L588.79 331.91L608.00 331.91L608.00 328.77L601.51 328.77L600.78 328.78L600.17 328.78L599.90 328.78L600.00 328.73L600.73 328.07L601.30 327.27L601.71 326.34L601.95 325.27L602.03 324.08L601.79 322.23L601.06 320.70L599.84 319.50L598.15 318.66L596.02 318.16L593.44 318.00L592.07 318.04L590.83 318.16L589.71 318.37L588.71 318.66L587.83 319.04L587.08 319.50L586.44 320.05L585.92 320.69L585.52 321.42L585.23 322.23L585.06 323.12L585.00 324.08L585.02 324.71L585.08 325.30L585.18 325.85L585.32 326.36L585.50 326.83L585.72 327.26L585.99 327.66L586.30 328.03L586.65 328.37L587.06 328.68ZM594.57 321.30L595.53 321.37L596.37 321.49L597.11 321.66L597.73 321.88L598.23 322.13L598.64 322.44L598.97 322.79L599.23 323.20L599.42 323.67L599.53 324.20L599.57 324.79L599.53 325.47L599.41 326.08L599.22 326.61L598.95 327.08L598.61 327.48L598.19 327.82L597.68 328.11L597.07 328.34L596.37 328.53L595.58 328.66L594.68 328.75L593.70 328.77L592.98 328.76L592.31 328.72L591.69 328.66L591.11 328.57L590.59 328.46L590.11 328.32L589.68 328.17L589.29 327.98L588.95 327.78L588.65 327.56L588.39 327.32L588.16 327.06L587.98 326.78L587.83 326.45L587.71 326.09L587.62 325.69L587.57 325.24L587.55 324.76L587.59 324.17L587.70 323.65L587.88 323.19L588.13 322.78L588.46 322.43L588.86 322.13L589.36 321.87L589.96 321.66L590.68 321.49L591.51 321.37L592.45 321.29L593.49 321.27ZM602.00 311.00L585.10 311.00L585.10 314.00L602.00 314.00ZM582.11 311.00L579.00 311.00L579.00 314.00L582.11 314.00ZM597.05 294.00L596.73 294.01L596.43 294.04L596.14 294.08L595.85 294.14L595.58 294.22L595.32 294.32L595.07 294.44L594.83 294.57L594.60 294.71L594.39 294.87L594.18 295.04L593.98 295.23L593.79 295.44L593.60 295.67L593.43 295.92L593.26 296.19L593.09 296.49L592.93 296.81L592.78 297.17L592.62 297.60L592.45 298.09L592.28 298.65L592.11 299.27L591.94 299.96L591.76 300.68L591.60 301.31L591.45 301.85L591.32 302.29L591.20 302.65L591.10 302.92L591.00 303.13L590.89 303.33L590.78 303.50L590.66 303.65L590.54 303.78L590.42 303.90L590.29 303.99L590.15 304.07L589.99 304.13L589.83 304.17L589.65 304.20L589.46 304.20L589.14 304.18L588.85 304.12L588.60 304.01L588.38 303.87L588.19 303.68L588.01 303.44L587.86 303.16L587.74 302.81L587.64 302.41L587.56 301.95L587.52 301.43L587.51 300.86L587.52 300.34L587.57 299.86L587.64 299.41L587.75 299.01L587.88 298.65L588.04 298.33L588.23 298.05L588.43 297.80L588.66 297.60L588.92 297.44L589.20 297.32L589.73 297.17L589.37 294.22L588.43 294.47L587.81 294.72L587.25 295.05L586.75 295.44L586.32 295.90L585.96 296.43L585.67 297.02L585.42 297.67L585.24 298.37L585.11 299.14L585.03 299.97L585.00 300.86L585.03 301.85L585.13 302.77L585.29 303.61L585.52 304.37L585.82 305.05L586.19 305.65L586.62 306.17L587.12 306.60L587.69 306.93L588.31 307.16L588.99 307.30L589.71 307.35L590.12 307.33L590.51 307.28L590.87 307.20L591.22 307.08L591.55 306.93L591.85 306.75L592.13 306.54L592.40 306.30L592.65 306.04L592.88 305.76L593.10 305.45L593.30 305.11L593.50 304.73L593.70 304.27L593.90 303.74L594.09 303.14L594.29 302.47L594.49 301.72L594.99 299.77L595.12 299.31L595.26 298.90L595.41 298.53L595.57 298.22L595.73 297.95L595.91 297.73L596.09 297.55L596.28 297.40L596.50 297.29L596.73 297.21L596.98 297.16L597.25 297.15L597.61 297.17L597.93 297.24L598.22 297.36L598.48 297.52L598.70 297.73L598.90 297.99L599.07 298.31L599.22 298.69L599.33 299.14L599.41 299.66L599.46 300.24L599.48 300.89L599.46 301.49L599.42 302.05L599.34 302.56L599.22 303.02L599.08 303.43L598.91 303.79L598.71 304.10L598.48 304.38L598.21 304.61L597.91 304.81L597.57 304.98L596.97 305.18L597.52 308.07L598.46 307.79L599.09 307.51L599.66 307.17L600.17 306.75L600.61 306.27L600.98 305.72L601.30 305.11L601.55 304.41L601.75 303.64L601.89 302.80L601.97 301.88L602.00 300.89L601.97 299.86L601.86 298.91L601.69 298.03L601.44 297.23L601.12 296.50L600.73 295.85L600.27 295.29L599.74 294.82L599.16 294.46L598.51 294.20L597.80 294.05ZM601.56 284.00L598.92 284.00L599.05 284.63L599.11 284.93L599.15 285.20L599.18 285.45L599.20 285.66L599.21 285.84L599.19 286.12L599.15 286.37L599.09 286.57L599.01 286.74L598.92 286.88L598.80 287.00L598.64 287.09L598.45 287.17L598.20 287.24L597.91 287.29L597.57 287.32L597.19 287.33L586.48 287.33L586.48 284.28L583.88 284.28L583.88 287.33L580.00 287.33L580.00 289.62L583.88 290.43L583.88 292.50L586.48 292.50L586.48 290.59L597.83 290.59L599.06 290.49L600.10 290.20L600.93 289.71L601.53 289.00L601.89 288.10L602.00 287.04L601.99 286.55L601.96 286.07L601.90 285.59L601.82 285.12L601.73 284.65ZM594.31 268.00L593.70 268.00L591.08 268.20L588.91 268.82L587.20 269.86L585.97 271.32L585.24 273.19L585.00 275.44L585.06 276.60L585.24 277.67L585.54 278.65L585.97 279.54L586.52 280.34L587.19 281.04L587.97 281.64L588.85 282.14L589.84 282.52L590.93 282.79L592.11 282.95L593.40 283.00L594.74 282.95L595.98 282.79L597.11 282.52L598.12 282.14L599.03 281.65L599.81 281.04L600.49 280.33L601.03 279.53L601.46 278.62L601.76 277.62L601.94 276.53L602.00 275.34L601.89 273.68L601.57 272.22L601.03 270.96L600.26 269.91L599.28 269.07L597.83 268.32L597.02 271.22L597.56 271.44L597.85 271.61L598.13 271.81L598.39 272.05L598.64 272.33L598.86 272.65L599.06 273.00L599.22 273.38L599.35 273.81L599.44 274.28L599.50 274.79L599.51 275.34L599.47 276.03L599.36 276.65L599.16 277.21L598.89 277.71L598.55 278.15L598.12 278.54L597.62 278.87L597.06 279.15L596.41 279.37L595.70 279.52L594.92 279.62L594.31 279.64ZM591.78 279.60L591.34 279.56L590.69 279.45L590.10 279.28L589.57 279.05L589.09 278.77L588.66 278.44L588.29 278.06L587.99 277.63L587.76 277.17L587.59 276.66L587.49 276.10L587.46 275.49L587.49 274.87L587.58 274.30L587.73 273.78L587.94 273.32L588.21 272.91L588.53 272.55L588.92 272.24L589.39 271.96L589.94 271.73L590.57 271.55L591.27 271.40L591.78 271.34ZM602.00 256.00L602.00 253.00L579.00 253.00L579.00 256.00ZM599.10 240.07L599.46 240.01L599.91 239.90L600.32 239.76L600.68 239.58L600.99 239.37L601.26 239.10L601.48 238.80L601.64 238.45L601.76 238.06L601.83 237.63L601.85 237.17L601.85 236.83L601.83 236.50L601.79 236.17L601.75 235.84L601.68 235.51L601.57 235.00L599.41 235.00L599.51 235.45L599.53 235.58L599.55 235.71L599.56 235.84L599.57 235.95L599.57 236.06L599.56 236.28L599.52 236.47L599.45 236.63L599.37 236.75L599.26 236.85L599.11 236.94L598.93 237.02L598.71 237.08L598.45 237.14L598.15 237.17L597.82 237.20L597.45 237.21L590.60 237.21L589.74 237.25L588.95 237.37L588.22 237.57L587.56 237.86L586.97 238.24L586.44 238.70L586.00 239.24L585.64 239.87L585.36 240.56L585.16 241.34L585.04 242.19L585.00 243.11L585.12 244.80L585.49 246.24L586.12 247.42L587.00 248.34L588.14 248.98L589.76 249.40L590.07 246.29L589.42 246.18L589.07 246.09L588.76 245.97L588.49 245.82L588.26 245.64L588.06 245.43L587.90 245.19L587.77 244.89L587.66 244.54L587.58 244.14L587.53 243.68L587.51 243.16L587.54 242.66L587.60 242.21L587.71 241.81L587.86 241.47L588.05 241.17L588.27 240.92L588.55 240.71L588.88 240.54L589.28 240.40L589.75 240.30L590.28 240.23L590.89 240.21L591.50 240.21L591.56 243.32L591.62 244.42L591.76 245.41L591.97 246.31L592.25 247.10L592.60 247.80L593.03 248.39L593.53 248.88L594.10 249.29L594.74 249.60L595.44 249.82L596.19 249.96L597.01 250.00L597.75 249.97L598.43 249.87L599.06 249.71L599.65 249.47L600.18 249.17L600.65 248.81L601.07 248.37L601.41 247.87L601.67 247.30L601.85 246.67L601.96 245.99L602.00 245.24L601.98 244.64L601.91 244.06L601.80 243.51L601.65 242.99L601.45 242.51L601.21 242.05L600.91 241.61L600.55 241.20L600.13 240.80L599.66 240.43L599.12 240.08ZM599.50 245.04L599.44 245.37L599.35 245.66L599.23 245.92L599.08 246.16L598.89 246.36L598.67 246.54L598.41 246.68L598.13 246.80L597.81 246.88L597.45 246.93L597.06 246.95L596.69 246.94L596.35 246.90L596.04 246.84L595.76 246.75L595.50 246.64L595.27 246.51L595.06 246.35L594.86 246.17L594.69 245.98L594.53 245.75L594.40 245.51L594.28 245.24L594.18 244.94L594.09 244.59L594.02 244.18L593.97 243.73L593.93 243.23L593.91 242.67L593.86 240.21L594.91 240.21L595.30 240.23L595.68 240.28L596.05 240.36L596.43 240.47L596.80 240.62L597.17 240.80L597.52 241.00L597.85 241.23L598.15 241.49L598.42 241.76L598.67 242.06L598.89 242.38L599.08 242.73L599.24 243.08L599.36 243.45L599.44 243.84L599.50 244.25L599.51 244.68ZM601.56 224.00L598.93 224.00L599.05 224.65L599.11 224.97L599.15 225.26L599.18 225.52L599.20 225.74L599.21 225.94L599.19 226.24L599.15 226.50L599.09 226.73L599.01 226.91L598.91 227.06L598.79 227.18L598.64 227.29L598.44 227.37L598.20 227.45L597.91 227.50L597.57 227.53L597.19 227.54L586.48 227.54L586.48 224.29L583.88 224.29L583.88 227.54L580.00 227.54L580.00 229.94L583.88 230.81L583.88 233.00L586.48 233.00L586.48 230.97L597.83 230.97L599.07 230.87L600.11 230.56L600.94 230.03L601.53 229.28L601.89 228.34L602.00 227.22L601.99 226.70L601.96 226.19L601.90 225.68L601.83 225.18L601.73 224.68ZM601.55 215.50L598.92 215.50L599.06 216.10L599.11 216.36L599.15 216.59L599.18 216.80L599.20 216.99L599.21 217.14L599.19 217.38L599.16 217.59L599.10 217.76L599.02 217.90L598.93 218.02L598.81 218.12L598.66 218.20L598.46 218.28L598.21 218.34L597.92 218.38L597.58 218.41L597.19 218.42L586.48 218.42L586.48 215.74L583.88 215.74L583.88 218.42L580.00 218.42L580.00 220.48L583.88 221.19L583.88 223.00L586.48 223.00L586.48 221.33L597.83 221.33L599.06 221.24L600.09 220.99L600.92 220.56L601.52 219.93L601.88 219.14L602.00 218.20L601.99 217.76L601.96 217.34L601.90 216.92L601.82 216.50L601.72 216.08ZM602.00 211.00L585.10 211.00L585.10 214.00L602.00 214.00ZM582.11 211.00L579.00 211.00L579.00 214.00L582.11 214.00ZM599.10 198.07L599.46 198.01L599.91 197.90L600.32 197.76L600.68 197.58L600.99 197.37L601.26 197.10L601.48 196.80L601.64 196.45L601.76 196.06L601.83 195.63L601.85 195.17L601.85 194.83L601.83 194.50L601.79 194.17L601.75 193.84L601.68 193.51L601.57 193.00L599.41 193.00L599.51 193.45L599.53 193.58L599.55 193.71L599.56 193.84L599.57 193.95L599.57 194.06L599.56 194.28L599.52 194.47L599.45 194.63L599.37 194.75L599.26 194.85L599.11 194.94L598.93 195.02L598.71 195.08L598.45 195.14L598.15 195.17L597.82 195.20L597.45 195.21L590.60 195.21L589.74 195.25L588.95 195.37L588.22 195.57L587.56 195.86L586.97 196.24L586.44 196.70L586.00 197.24L585.64 197.87L585.36 198.56L585.16 199.34L585.04 200.19L585.00 201.11L585.12 202.80L585.49 204.24L586.12 205.42L587.00 206.34L588.14 206.98L589.76 207.40L590.07 204.29L589.42 204.18L589.07 204.09L588.76 203.97L588.49 203.82L588.26 203.64L588.06 203.43L587.90 203.19L587.77 202.89L587.66 202.54L587.58 202.14L587.53 201.68L587.51 201.16L587.54 200.66L587.60 200.21L587.71 199.81L587.86 199.47L588.05 199.17L588.27 198.92L588.55 198.71L588.88 198.54L589.28 198.40L589.75 198.30L590.28 198.23L590.89 198.21L591.50 198.21L591.56 201.32L591.62 202.42L591.76 203.41L591.97 204.31L592.25 205.10L592.60 205.80L593.03 206.39L593.53 206.88L594.10 207.29L594.74 207.60L595.44 207.82L596.19 207.96L597.01 208.00L597.75 207.97L598.43 207.87L599.06 207.71L599.65 207.47L600.18 207.17L600.65 206.81L601.07 206.37L601.41 205.87L601.67 205.30L601.85 204.67L601.96 203.99L602.00 203.24L601.98 202.64L601.91 202.06L601.80 201.51L601.65 200.99L601.45 200.51L601.21 200.05L600.91 199.61L600.55 199.20L600.13 198.80L599.66 198.43L599.12 198.08ZM599.50 203.04L599.44 203.37L599.35 203.66L599.23 203.92L599.08 204.16L598.89 204.36L598.67 204.54L598.41 204.68L598.13 204.80L597.81 204.88L597.45 204.93L597.06 204.95L596.69 204.94L596.35 204.90L596.04 204.84L595.76 204.75L595.50 204.64L595.27 204.51L595.06 204.35L594.86 204.17L594.69 203.98L594.53 203.75L594.40 203.51L594.28 203.24L594.18 202.94L594.09 202.59L594.02 202.18L593.97 201.73L593.93 201.23L593.91 200.67L593.86 198.21L594.91 198.21L595.30 198.23L595.68 198.28L596.05 198.36L596.43 198.47L596.80 198.62L597.17 198.80L597.52 199.00L597.85 199.23L598.15 199.49L598.42 199.76L598.67 200.06L598.89 200.38L599.08 200.73L599.24 201.08L599.36 201.45L599.44 201.84L599.50 202.25L599.51 202.68ZM597.05 176.00L596.73 176.01L596.43 176.04L596.14 176.08L595.85 176.14L595.58 176.22L595.32 176.32L595.07 176.44L594.83 176.57L594.60 176.71L594.39 176.87L594.18 177.04L593.98 177.23L593.79 177.44L593.60 177.67L593.43 177.92L593.26 178.19L593.09 178.49L592.93 178.81L592.78 179.17L592.62 179.60L592.45 180.09L592.28 180.65L592.11 181.27L591.94 181.96L591.76 182.68L591.60 183.31L591.45 183.85L591.32 184.29L591.20 184.65L591.10 184.92L591.00 185.13L590.89 185.33L590.78 185.50L590.66 185.65L590.54 185.78L590.42 185.90L590.29 185.99L590.15 186.07L589.99 186.13L589.83 186.17L589.65 186.20L589.46 186.20L589.14 186.18L588.85 186.12L588.60 186.01L588.38 185.87L588.19 185.68L588.01 185.44L587.86 185.16L587.74 184.81L587.64 184.41L587.56 183.95L587.52 183.43L587.51 182.86L587.52 182.34L587.57 181.86L587.64 181.41L587.75 181.01L587.88 180.65L588.04 180.33L588.23 180.05L588.43 179.80L588.66 179.60L588.92 179.44L589.20 179.32L589.73 179.17L589.37 176.22L588.43 176.47L587.81 176.72L587.25 177.05L586.75 177.44L586.32 177.90L585.96 178.43L585.67 179.02L585.42 179.67L585.24 180.37L585.11 181.14L585.03 181.97L585.00 182.86L585.03 183.85L585.13 184.77L585.29 185.61L585.52 186.37L585.82 187.05L586.19 187.65L586.62 188.17L587.12 188.60L587.69 188.93L588.31 189.16L588.99 189.30L589.71 189.35L590.12 189.33L590.51 189.28L590.87 189.20L591.22 189.08L591.55 188.93L591.85 188.75L592.13 188.54L592.40 188.30L592.65 188.04L592.88 187.76L593.10 187.45L593.30 187.11L593.50 186.73L593.70 186.27L593.90 185.74L594.09 185.14L594.29 184.47L594.49 183.72L594.99 181.77L595.12 181.31L595.26 180.90L595.41 180.53L595.57 180.22L595.73 179.95L595.91 179.73L596.09 179.55L596.28 179.40L596.50 179.29L596.73 179.21L596.98 179.16L597.25 179.15L597.61 179.17L597.93 179.24L598.22 179.36L598.48 179.52L598.70 179.73L598.90 179.99L599.07 180.31L599.22 180.69L599.33 181.14L599.41 181.66L599.46 182.24L599.48 182.89L599.46 183.49L599.42 184.05L599.34 184.56L599.22 185.02L599.08 185.43L598.91 185.79L598.71 186.10L598.48 186.38L598.21 186.61L597.91 186.81L597.57 186.98L596.97 187.18L597.52 190.07L598.46 189.79L599.09 189.51L599.66 189.17L600.17 188.75L600.61 188.27L600.98 187.72L601.30 187.11L601.55 186.41L601.75 185.64L601.89 184.80L601.97 183.88L602.00 182.89L601.97 181.86L601.86 180.91L601.69 180.03L601.44 179.23L601.12 178.50L600.73 177.85L600.27 177.29L599.74 176.82L599.16 176.46L598.51 176.20L597.80 176.05ZM601.56 166.00L598.93 166.00L599.05 166.65L599.11 166.97L599.15 167.26L599.18 167.52L599.20 167.74L599.21 167.94L599.19 168.24L599.15 168.50L599.09 168.73L599.01 168.91L598.91 169.06L598.79 169.18L598.64 169.29L598.44 169.37L598.20 169.45L597.91 169.50L597.57 169.53L597.19 169.54L586.48 169.54L586.48 166.29L583.88 166.29L583.88 169.54L580.00 169.54L580.00 171.94L583.88 172.81L583.88 175.00L586.48 175.00L586.48 172.97L597.83 172.97L599.07 172.87L600.11 172.56L600.94 172.03L601.53 171.28L601.89 170.34L602.00 169.22L601.99 168.70L601.96 168.19L601.90 167.68L601.83 167.18L601.73 166.68ZM599.10 155.07L599.46 155.01L599.91 154.90L600.32 154.76L600.68 154.58L600.99 154.37L601.26 154.10L601.48 153.80L601.64 153.45L601.76 153.06L601.83 152.63L601.85 152.17L601.85 151.83L601.83 151.50L601.79 151.17L601.75 150.84L601.68 150.51L601.57 150.00L599.41 150.00L599.51 150.45L599.53 150.58L599.55 150.71L599.56 150.84L599.57 150.95L599.57 151.06L599.56 151.28L599.52 151.47L599.45 151.63L599.37 151.75L599.26 151.85L599.11 151.94L598.93 152.02L598.71 152.08L598.45 152.14L598.15 152.17L597.82 152.20L597.45 152.21L590.60 152.21L589.74 152.25L588.95 152.37L588.22 152.57L587.56 152.86L586.97 153.24L586.44 153.70L586.00 154.24L585.64 154.87L585.36 155.56L585.16 156.34L585.04 157.19L585.00 158.11L585.12 159.80L585.49 161.24L586.12 162.42L587.00 163.34L588.14 163.98L589.76 164.40L590.07 161.29L589.42 161.18L589.07 161.09L588.76 160.97L588.49 160.82L588.26 160.64L588.06 160.43L587.90 160.19L587.77 159.89L587.66 159.54L587.58 159.14L587.53 158.68L587.51 158.16L587.54 157.66L587.60 157.21L587.71 156.81L587.86 156.47L588.05 156.17L588.27 155.92L588.55 155.71L588.88 155.54L589.28 155.40L589.75 155.30L590.28 155.23L590.89 155.21L591.50 155.21L591.56 158.32L591.62 159.42L591.76 160.41L591.97 161.31L592.25 162.10L592.60 162.80L593.03 163.39L593.53 163.88L594.10 164.29L594.74 164.60L595.44 164.82L596.19 164.96L597.01 165.00L597.75 164.97L598.43 164.87L599.06 164.71L599.65 164.47L600.18 164.17L600.65 163.81L601.07 163.37L601.41 162.87L601.67 162.30L601.85 161.67L601.96 160.99L602.00 160.24L601.98 159.64L601.91 159.06L601.80 158.51L601.65 157.99L601.45 157.51L601.21 157.05L600.91 156.61L600.55 156.20L600.13 155.80L599.66 155.43L599.12 155.08ZM599.50 160.04L599.44 160.37L599.35 160.66L599.23 160.92L599.08 161.16L598.89 161.36L598.67 161.54L598.41 161.68L598.13 161.80L597.81 161.88L597.45 161.93L597.06 161.95L596.69 161.94L596.35 161.90L596.04 161.84L595.76 161.75L595.50 161.64L595.27 161.51L595.06 161.35L594.86 161.17L594.69 160.98L594.53 160.75L594.40 160.51L594.28 160.24L594.18 159.94L594.09 159.59L594.02 159.18L593.97 158.73L593.93 158.23L593.91 157.67L593.86 155.21L594.91 155.21L595.30 155.23L595.68 155.28L596.05 155.36L596.43 155.47L596.80 155.62L597.17 155.80L597.52 156.00L597.85 156.23L598.15 156.49L598.42 156.76L598.67 157.06L598.89 157.38L599.08 157.73L599.24 158.08L599.36 158.45L599.44 158.84L599.50 159.25L599.51 159.68Z"><title>Ripustuspiste lattiasta</title></path>
</g>
</svg>
</body></html>
